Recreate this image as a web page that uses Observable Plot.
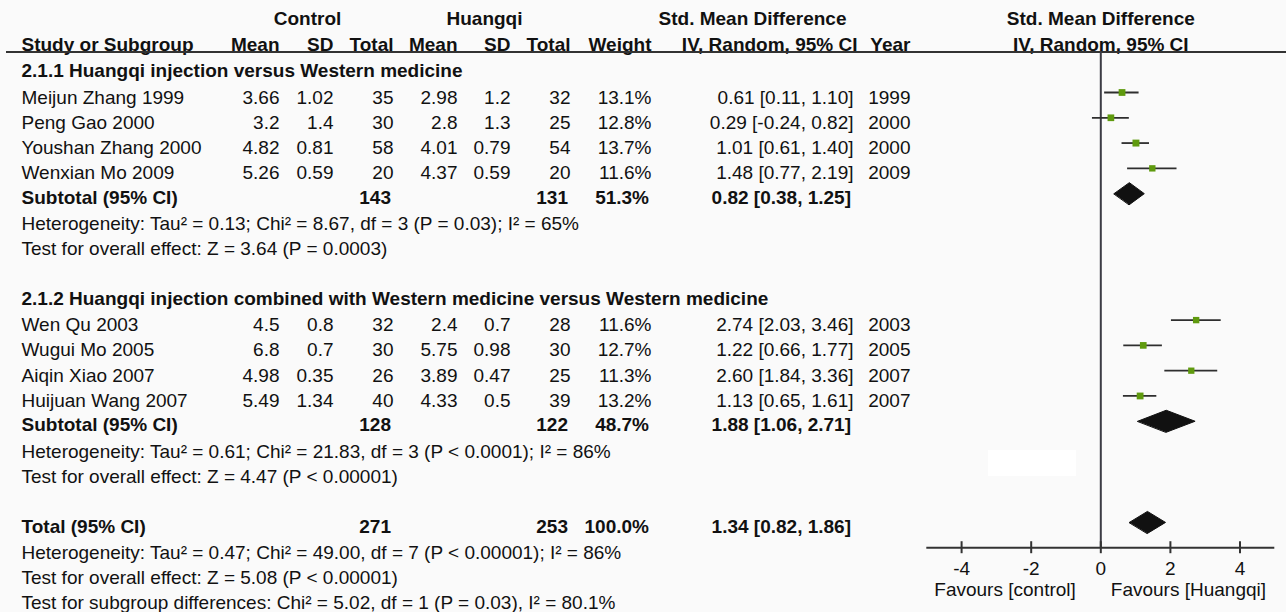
<!DOCTYPE html>
<html>
<head>
<meta charset="utf-8">
<script src="https://cdn.jsdelivr.net/npm/d3@7"></script>
<script src="https://cdn.jsdelivr.net/npm/@observablehq/plot@0.6"></script>
<style>
  html, body { margin: 0; padding: 0; background: #fafafa; }
  #chart { position: relative; width: 1286px; height: 612px; }
  #chart svg { display: block; }
  #patch { position: absolute; left: 988px; top: 450px; width: 88px; height: 26px; background: #fff; }
</style>
</head>
<body>
<div id="chart"><div id="patch"></div></div>
<script>
// ---- Study data ----
const studyNames = ["Meijun Zhang 1999", "Peng Gao 2000", "Youshan Zhang 2000", "Wenxian Mo 2009",
                    "Wen Qu 2003", "Wugui Mo 2005", "Aiqin Xiao 2007", "Huijuan Wang 2007"];
const studyGroup = [1, 1, 1, 1, 2, 2, 2, 2];
const ctrlMean = [3.66, 3.2, 4.82, 5.26, 4.5, 6.8, 4.98, 5.49];
const ctrlSD   = [1.02, 1.4, 0.81, 0.59, 0.8, 0.7, 0.35, 1.34];
const ctrlN    = [35, 30, 58, 20, 32, 30, 26, 40];
const hqMean   = [2.98, 2.8, 4.01, 4.37, 2.4, 5.75, 3.89, 4.33];
const hqSD     = [1.2, 1.3, 0.79, 0.59, 0.7, 0.98, 0.47, 0.5];
const hqN      = [32, 25, 54, 20, 28, 30, 25, 39];
const weight   = [13.1, 12.8, 13.7, 11.6, 11.6, 12.7, 11.3, 13.2];
const smd      = [0.61, 0.29, 1.01, 1.48, 2.74, 1.22, 2.60, 1.13];
const ciLow    = [0.11, -0.24, 0.61, 0.77, 2.03, 0.66, 1.84, 0.65];
const ciHigh   = [1.10, 0.82, 1.40, 2.19, 3.46, 1.77, 3.36, 1.61];
const studyYear = [1999, 2000, 2000, 2009, 2003, 2005, 2007, 2007];

// ---- Pooled estimates (two subgroups, then overall) ----
const groupTitles = ["2.1.1 Huangqi injection versus Western medicine",
                     "2.1.2 Huangqi injection combined with Western medicine versus Western medicine"];
const pooledLabels = ["Subtotal (95% CI)", "Subtotal (95% CI)", "Total (95% CI)"];
const pooledCtrlN  = [143, 128, 271];
const pooledHqN    = [131, 122, 253];
const pooledWeight = [51.3, 48.7, 100.0];
const pooledSmd    = [0.82, 1.88, 1.34];
const pooledLow    = [0.38, 1.06, 0.82];
const pooledHigh   = [1.25, 2.71, 1.86];
const pooledNotes = [
  ["Heterogeneity: Tau\u00b2 = 0.13; Chi\u00b2 = 8.67, df = 3 (P = 0.03); I\u00b2 = 65%",
   "Test for overall effect: Z = 3.64 (P = 0.0003)"],
  ["Heterogeneity: Tau\u00b2 = 0.61; Chi\u00b2 = 21.83, df = 3 (P < 0.0001); I\u00b2 = 86%",
   "Test for overall effect: Z = 4.47 (P < 0.00001)"],
  ["Heterogeneity: Tau\u00b2 = 0.47; Chi\u00b2 = 49.00, df = 7 (P < 0.00001); I\u00b2 = 86%",
   "Test for overall effect: Z = 5.08 (P < 0.00001)",
   "Test for subgroup differences: Chi\u00b2 = 5.02, df = 1 (P = 0.03), I\u00b2 = 80.1%"]
];

// ---- Headers and axis ----
const groupHeaders = ["Control", "Huangqi", "Std. Mean Difference"];
const columnHeaders = ["Study or Subgroup", "Mean", "SD", "Total", "Mean", "SD", "Total", "Weight", "IV, Random, 95% CI", "Year"];
const plotHeaders = ["Std. Mean Difference", "IV, Random, 95% CI"];
const axisDomain = [-5, 5];
const axisTicks = [-4, -2, 0, 2, 4];
const favourLabels = ["Favours [control]", "Favours [Huangqi]"];

// ---- Layout ----
const W = 1286, H = 612;
const rowStep = 25.29, firstRowY = 66.7;
const fmt2 = v => v.toFixed(2);
const ciText = (e, l, h) => `${fmt2(e)} [${fmt2(l)}, ${fmt2(h)}]`;

// Build the table rows in order; each line gets a row index k.
const rows = [];
let k = 0;
const addPooled = p => {
  rows.push({k: k++, kind: "pooled", name: pooledLabels[p], cn: String(pooledCtrlN[p]), hn: String(pooledHqN[p]),
             wt: pooledWeight[p].toFixed(1) + "%", ci: ciText(pooledSmd[p], pooledLow[p], pooledHigh[p]),
             est: pooledSmd[p], lo: pooledLow[p], hi: pooledHigh[p]});
  pooledNotes[p].forEach(t => rows.push({k: k++, kind: "note", name: t}));
};
groupTitles.forEach((title, g) => {
  rows.push({k: k++, kind: "heading", name: title});
  studyNames.forEach((n, i) => {
    if (studyGroup[i] !== g + 1) return;
    rows.push({k: k++, kind: "study", name: n,
      cm: String(ctrlMean[i]), csd: String(ctrlSD[i]), cn: String(ctrlN[i]),
      hm: String(hqMean[i]), hsd: String(hqSD[i]), hn: String(hqN[i]),
      wt: weight[i].toFixed(1) + "%", ci: ciText(smd[i], ciLow[i], ciHigh[i]), yr: String(studyYear[i]),
      est: smd[i], lo: ciLow[i], hi: ciHigh[i], w: weight[i]});
  });
  addPooled(g);
  k++; // blank line between sections
});
addPooled(2);

const axisRow = 19;            // row index of the x axis line
const headerRuleRow = -0.6;    // rule under the column headers
const diamondHalf = 11 / rowStep;

// column anchor points (pixels from the left edge)
const columns = [
  {key: "name", px: 21,  anchor: "start"},
  {key: "cm",   px: 279, anchor: "end"},
  {key: "csd",  px: 333, anchor: "end"},
  {key: "cn",   px: 393, anchor: "end"},
  {key: "hm",   px: 457, anchor: "end"},
  {key: "hsd",  px: 510, anchor: "end"},
  {key: "hn",   px: 570, anchor: "end"},
  {key: "wt",   px: 651, anchor: "end"},
  {key: "ci",   px: 853, anchor: "end"},
  {key: "yr",   px: 910, anchor: "end"}
];
const headerPx = [21, 279, 333, 393, 457, 510, 570, 651, 857, 910];
const groupHeaderPx = [307, 484, 752];

const ink = "#111";
const green = "#5f9a0e";
const font = {fontSize: 19, fill: ink};
const isBold = r => r.kind === "heading" || r.kind === "pooled";

const marks = [];

// table body text, one mark per column and weight
columns.forEach(col => {
  const data = rows.filter(r => r[col.key] != null);
  const plainRows = data.filter(r => !isBold(r));
  const boldRows = data.filter(isBold);
  marks.push(Plot.text(plainRows, {
    frameAnchor: "left", dx: col.px, dy: 5, y: "k", text: col.key,
    textAnchor: col.anchor, fontWeight: "normal", ...font
  }));
  marks.push(Plot.text(boldRows, {
    frameAnchor: "left", dx: col.anchor === "end" ? col.px - 2.5 : col.px, dy: 4, y: "k", text: col.key,
    textAnchor: col.anchor, fontWeight: "bold", ...font
  }));
});

// column headers
columnHeaders.forEach((h, i) => {
  marks.push(Plot.text([h], {frameAnchor: "left", dx: headerPx[i], y: () => -1, dy: 2.6, text: d => d,
    textAnchor: i === 0 ? "start" : "end", fontWeight: "bold", ...font}));
});
groupHeaders.forEach((h, i) => {
  marks.push(Plot.text([h], {frameAnchor: "left", dx: groupHeaderPx[i], y: () => -2, dy: 2.6, text: d => d,
    textAnchor: "middle", fontWeight: "bold", ...font}));
});
marks.push(Plot.text(plotHeaders, {x: 0, y: (d, i) => i - 2, dy: 2.6, text: d => d,
  textAnchor: "middle", fontWeight: "bold", ...font}));

// rule under the headers, across the full width
marks.push(Plot.ruleY([headerRuleRow], {insetLeft: 6, stroke: "#333", strokeWidth: 2}));

// line of no effect
marks.push(Plot.ruleX([0], {y1: headerRuleRow, y2: axisRow, stroke: "#3c3c44", strokeWidth: 2}));

// study confidence intervals and weighted squares
const studyRows = rows.filter(r => r.kind === "study");
marks.push(Plot.ruleY(studyRows, {y: "k", x1: "lo", x2: "hi", stroke: "#2e2e2e", strokeWidth: 1.8}));
marks.push(Plot.dot(studyRows, {x: "est", y: "k", r: "w", symbol: "square", fill: green, stroke: "none"}));

// pooled diamonds
const pooledRows = rows.filter(r => r.kind === "pooled");
const diamondPts = pooledRows.flatMap(r => [
  {id: r.k, x: r.lo, y: r.k},
  {id: r.k, x: r.est, y: r.k - diamondHalf},
  {id: r.k, x: r.hi, y: r.k},
  {id: r.k, x: r.est, y: r.k + diamondHalf}
]);
marks.push(Plot.line(diamondPts, {x: "x", y: "y", z: "id", fill: "#111", stroke: "#111", strokeWidth: 1, curve: "linear-closed"}));

// x axis
marks.push(Plot.ruleY([axisRow], {x1: axisDomain[0], x2: axisDomain[1], stroke: "#333", strokeWidth: 2}));
marks.push(Plot.ruleX(axisTicks, {x: d => d, y1: axisRow - 6 / rowStep, y2: axisRow + 6 / rowStep, stroke: "#333", strokeWidth: 2}));
marks.push(Plot.text(axisTicks, {x: d => d, y: axisRow, dy: 21.5, text: d => String(d), ...font}));
marks.push(Plot.text([favourLabels[0]], {x: 0, y: axisRow, dx: -25, dy: 42.5, text: d => d, textAnchor: "end", ...font}));
marks.push(Plot.text([favourLabels[1]], {x: 0, y: axisRow, dx: 10, dy: 42.5, text: d => d, textAnchor: "start", ...font}));

const chart = Plot.plot({
  width: W, height: H,
  marginLeft: 0, marginRight: 0, marginTop: 0, marginBottom: 0,
  x: {type: "linear", domain: axisDomain, range: [926.3, 1274.3], axis: null},
  y: {type: "linear", domain: [0, 20], range: [firstRowY, firstRowY + 20 * rowStep], axis: null},
  r: {type: "sqrt", domain: [0, 14], range: [0, 3.95]},
  style: {fontFamily: "'Liberation Sans', Arial, Helvetica, sans-serif", background: "transparent", overflow: "visible"},
  marks
});
document.getElementById("chart").prepend(chart);
</script>
</body>
</html>
